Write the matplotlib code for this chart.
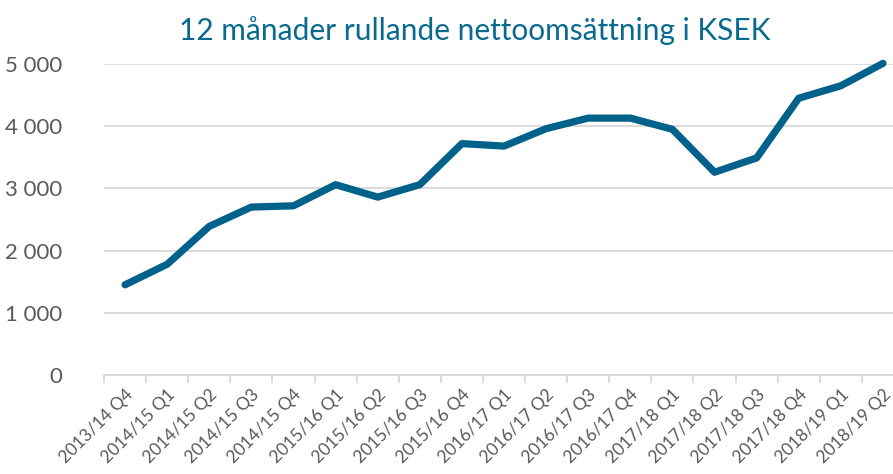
import numpy as np
import matplotlib
matplotlib.use("Agg")
import matplotlib.pyplot as plt
from matplotlib.ticker import FuncFormatter, FixedLocator

plt.rcParams['font.family'] = ['Lato', 'DejaVu Sans']

quarters = ["2013/14 Q4", "2014/15 Q1", "2014/15 Q2", "2014/15 Q3", "2014/15 Q4",
            "2015/16 Q1", "2015/16 Q2", "2015/16 Q3", "2015/16 Q4",
            "2016/17 Q1", "2016/17 Q2", "2016/17 Q3", "2016/17 Q4",
            "2017/18 Q1", "2017/18 Q2", "2017/18 Q3", "2017/18 Q4",
            "2018/19 Q1", "2018/19 Q2"]
sales = [1450, 1780, 2390, 2700, 2720, 3060, 2860, 3060, 3720,
         3680, 3960, 4130, 4130, 3950, 3260, 3490, 4450, 4650, 5010]
yticks = [0, 1000, 2000, 3000, 4000, 5000]

line_col = "#00628b"
grey = "#595959"

fig = plt.figure(figsize=(8.93, 4.74), dpi=100)
W, H = 893, 474
ax = fig.add_axes([104 / W, (H - 375) / H, 800 / W, 311 / H])

x = np.arange(len(quarters))
ax.plot(x, sales, color=line_col, lw=5.2, solid_capstyle='round',
        solid_joinstyle='round', clip_on=False, zorder=3)

ax.set_xlim(-0.5, len(quarters) - 0.5)
ax.set_ylim(0, 5000)
ax.set_yticks(yticks)
ax.yaxis.set_major_formatter(FuncFormatter(lambda v, p: f"{int(v):,}".replace(",", " ")))
ax.grid(axis='y', color="#d9d9d9", lw=1.3)
ax.set_axisbelow(True)

ax.set_xticks(x)
ax.set_xticklabels(quarters, rotation=45, ha='right', rotation_mode='anchor',
                   fontsize=12.5, color=grey)
ax.xaxis.set_minor_locator(FixedLocator(np.arange(-0.5, len(quarters), 1)))
ax.tick_params(axis='x', which='major', length=0, pad=8)
ax.tick_params(axis='x', which='minor', length=6, color="#d9d9d9", width=1.3)
ax.tick_params(axis='y', length=0, labelsize=16, labelcolor=grey, pad=30)

for s in ['top', 'right', 'left']:
    ax.spines[s].set_visible(False)
ax.spines['bottom'].set_color("#d9d9d9")
ax.spines['bottom'].set_linewidth(1.3)

fig.text(475 / W, 1 - 31 / H, "12 månader rullande nettoomsättning i KSEK",
         ha='center', va='center', fontsize=21.5, color="#0a6a8e")

fig.savefig("out.png", dpi=100)
